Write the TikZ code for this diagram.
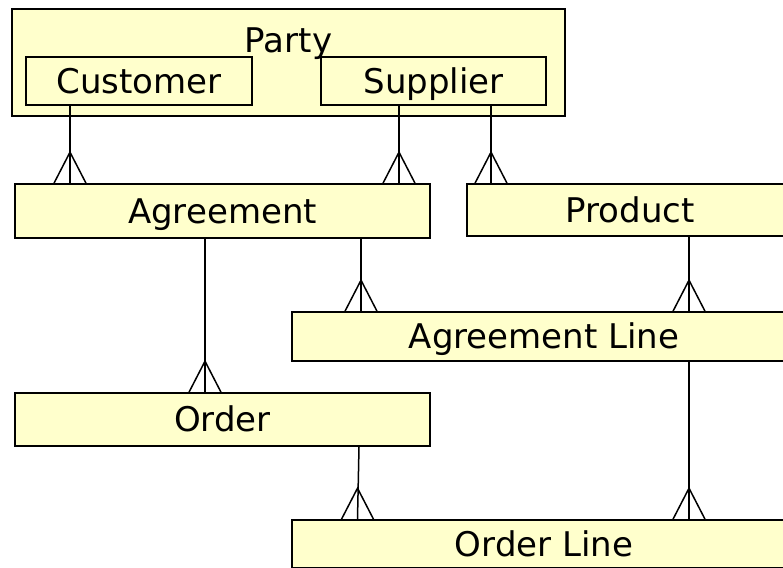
\documentclass[tikz,border=0pt]{standalone}
\usepackage{fontspec}
\setmainfont{DejaVu Sans}
\definecolor{entityfill}{HTML}{FFFFCC}
\begin{document}
\begin{tikzpicture}[x=1pt,y=-1pt,
  entity/.style={draw=black, line width=1.6pt, fill=entityfill, rectangle,
    inner sep=0pt, font=\fontsize{34}{40}\selectfont,
    text height=24pt, text depth=0pt},
  link/.style={line width=1.5pt},
  crowfoot/.pic={\draw[link, line join=miter] (-16,0) -- (0,-31) -- (16,0);}]
\useasboundingbox (0,0) rectangle (783,567);
\clip (0,0) rectangle (783,567);

% entities
\node[entity, minimum width=553pt, minimum height=107pt] (party) at (288.5,62.5) {};
\node[entity, minimum width=226pt, minimum height=48pt] (customer) at (139,81) {Customer};
\node[entity, minimum width=225pt, minimum height=48pt] (supplier) at (433.5,81) {Supplier};
\node[font=\fontsize{34}{40}\selectfont, anchor=base, inner sep=0pt] (partylabel) at (288.5,53) {Party};

\node[entity, minimum width=415pt, minimum height=54pt] (agreement) at (222.5,211) {Agreement};
\node[entity, minimum width=326pt, minimum height=52pt] (product) at (630,210) {Product};
\node[entity, minimum width=504pt, minimum height=49pt] (agreementline) at (544,336.5) {Agreement Line};
\node[entity, minimum width=415pt, minimum height=53pt] (order) at (222.5,419.5) {Order};
\node[entity, minimum width=504pt, minimum height=48pt] (orderline) at (544,544) {Order Line};

% connector columns
\coordinate (cCust) at (70,0);
\coordinate (cSupA) at (399,0);
\coordinate (cSupP) at (491,0);
\coordinate (cAgrL) at (361,0);
\coordinate (cAgrO) at (205,0);
\coordinate (cProd) at (689,0);
\coordinate (cOrdA) at (359,0);
\coordinate (cOrdB) at (357.5,0);

% one-to-many relationships
\draw[link] (cCust |- customer.south) -- (cCust |- agreement.north);
\pic at (cCust |- agreement.north) {crowfoot};

\draw[link] (cSupA |- supplier.south) -- (cSupA |- agreement.north);
\pic at (cSupA |- agreement.north) {crowfoot};

\draw[link] (cSupP |- supplier.south) -- (cSupP |- product.north);
\pic at (cSupP |- product.north) {crowfoot};

\draw[link] (cAgrL |- agreement.south) -- (cAgrL |- agreementline.north);
\pic at (cAgrL |- agreementline.north) {crowfoot};

\draw[link] (cProd |- product.south) -- (cProd |- agreementline.north);
\pic at (cProd |- agreementline.north) {crowfoot};

\draw[link] (cAgrO |- agreement.south) -- (cAgrO |- order.north);
\pic at (cAgrO |- order.north) {crowfoot};

\draw[link] (cOrdA |- order.south) -- (cOrdB |- orderline.north);
\pic at (cOrdB |- orderline.north) {crowfoot};

\draw[link] (cProd |- agreementline.south) -- (cProd |- orderline.north);
\pic at (cProd |- orderline.north) {crowfoot};
\end{tikzpicture}
\end{document}
